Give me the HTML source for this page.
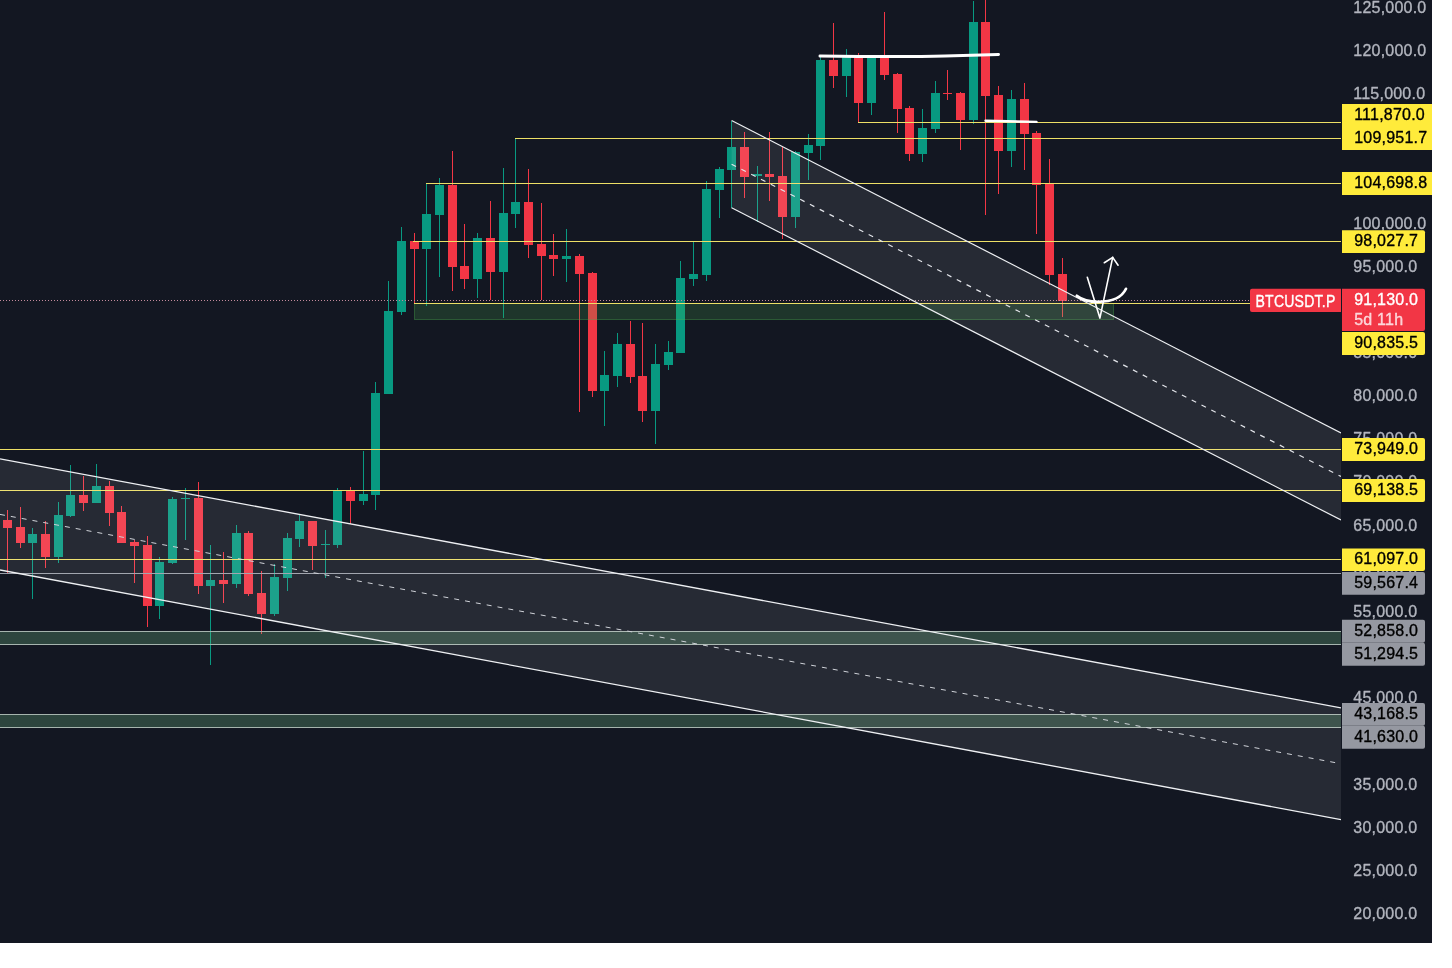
<!DOCTYPE html>
<html lang="en"><head><meta charset="utf-8"><title>BTCUSDT.P chart</title>
<style>html,body{margin:0;padding:0;background:#fff}body{width:1452px;height:968px;overflow:hidden}svg{display:block;will-change:transform}text{font-family:"Liberation Sans",Arial,sans-serif;font-size:16px;letter-spacing:0.22px;stroke-width:0.35px;stroke-linejoin:round}</style></head><body>
<svg width="1452" height="968" viewBox="0 0 1452 968">
<defs><clipPath id="cp"><rect x="0" y="0" width="1432" height="943"/></clipPath><clipPath id="ch"><rect x="0" y="0" width="1341" height="943"/></clipPath></defs>
<rect width="1452" height="968" fill="#ffffff"/>
<g clip-path="url(#cp)">
<rect x="0" y="0" width="1432" height="943" fill="#131722"/>
<g shape-rendering="crispEdges">
<rect x="7" y="510.0" width="1" height="62.8" fill="#F23645"/>
<rect x="3" y="520.0" width="9" height="8.0" fill="#F23645"/>
<rect x="20" y="507.0" width="1" height="40.6" fill="#F23645"/>
<rect x="16" y="527.0" width="9" height="16.0" fill="#F23645"/>
<rect x="32" y="528.0" width="1" height="70.7" fill="#089981"/>
<rect x="28" y="534.0" width="9" height="9.0" fill="#089981"/>
<rect x="45" y="521.0" width="1" height="46.8" fill="#F23645"/>
<rect x="41" y="534.0" width="9" height="23.0" fill="#F23645"/>
<rect x="58" y="502.0" width="1" height="60.8" fill="#089981"/>
<rect x="54" y="515.0" width="9" height="42.0" fill="#089981"/>
<rect x="70" y="465.0" width="1" height="52.0" fill="#089981"/>
<rect x="66" y="495.0" width="9" height="21.0" fill="#089981"/>
<rect x="83" y="476.0" width="1" height="35.0" fill="#F23645"/>
<rect x="79" y="495.0" width="9" height="8.0" fill="#F23645"/>
<rect x="96" y="464.0" width="1" height="39.0" fill="#089981"/>
<rect x="92" y="486.0" width="9" height="17.0" fill="#089981"/>
<rect x="109" y="481.4" width="1" height="44.6" fill="#F23645"/>
<rect x="105" y="486.0" width="9" height="27.0" fill="#F23645"/>
<rect x="121" y="506.0" width="1" height="37.0" fill="#F23645"/>
<rect x="117" y="512.0" width="9" height="31.0" fill="#F23645"/>
<rect x="134" y="540.0" width="1" height="42.6" fill="#F23645"/>
<rect x="130" y="542.0" width="9" height="4.0" fill="#F23645"/>
<rect x="147" y="536.0" width="1" height="90.7" fill="#F23645"/>
<rect x="143" y="545.0" width="9" height="60.7" fill="#F23645"/>
<rect x="159" y="557.0" width="1" height="61.7" fill="#089981"/>
<rect x="155" y="562.0" width="9" height="43.7" fill="#089981"/>
<rect x="172" y="497.0" width="1" height="67.0" fill="#089981"/>
<rect x="168" y="499.0" width="9" height="64.0" fill="#089981"/>
<rect x="185" y="488.0" width="1" height="52.0" fill="#089981"/>
<rect x="181" y="497.5" width="9" height="1.1" fill="#089981"/>
<rect x="198" y="482.0" width="1" height="112.0" fill="#F23645"/>
<rect x="194" y="498.0" width="9" height="88.0" fill="#F23645"/>
<rect x="210" y="545.0" width="1" height="120.0" fill="#089981"/>
<rect x="206" y="580.0" width="9" height="6.0" fill="#089981"/>
<rect x="223" y="552.0" width="1" height="51.0" fill="#F23645"/>
<rect x="219" y="580.0" width="9" height="4.0" fill="#F23645"/>
<rect x="236" y="525.0" width="1" height="63.0" fill="#089981"/>
<rect x="232" y="533.0" width="9" height="51.0" fill="#089981"/>
<rect x="248" y="531.0" width="1" height="65.0" fill="#F23645"/>
<rect x="244" y="533.0" width="9" height="61.0" fill="#F23645"/>
<rect x="261" y="571.0" width="1" height="63.0" fill="#F23645"/>
<rect x="257" y="593.0" width="9" height="21.0" fill="#F23645"/>
<rect x="274" y="564.0" width="1" height="52.0" fill="#089981"/>
<rect x="270" y="577.0" width="9" height="37.0" fill="#089981"/>
<rect x="287" y="533.0" width="1" height="58.0" fill="#089981"/>
<rect x="283" y="538.0" width="9" height="40.0" fill="#089981"/>
<rect x="299" y="514.0" width="1" height="33.0" fill="#089981"/>
<rect x="295" y="521.0" width="9" height="18.0" fill="#089981"/>
<rect x="312" y="521.0" width="1" height="49.0" fill="#F23645"/>
<rect x="308" y="521.0" width="9" height="25.0" fill="#F23645"/>
<rect x="325" y="530.0" width="1" height="48.0" fill="#089981"/>
<rect x="321" y="544.0" width="9" height="1.1" fill="#089981"/>
<rect x="337" y="488.0" width="1" height="60.0" fill="#089981"/>
<rect x="333" y="491.0" width="9" height="54.0" fill="#089981"/>
<rect x="350" y="487.0" width="1" height="37.0" fill="#F23645"/>
<rect x="346" y="491.0" width="9" height="10.0" fill="#F23645"/>
<rect x="363" y="451.0" width="1" height="53.5" fill="#089981"/>
<rect x="359" y="494.0" width="9" height="7.0" fill="#089981"/>
<rect x="375" y="382.0" width="1" height="128.0" fill="#089981"/>
<rect x="371" y="393.0" width="9" height="102.0" fill="#089981"/>
<rect x="388" y="281.0" width="1" height="112.5" fill="#089981"/>
<rect x="384" y="311.0" width="9" height="82.5" fill="#089981"/>
<rect x="401" y="227.0" width="1" height="88.0" fill="#089981"/>
<rect x="397" y="241.0" width="9" height="71.0" fill="#089981"/>
<rect x="414" y="232.5" width="1" height="70.0" fill="#F23645"/>
<rect x="410" y="241.0" width="9" height="8.0" fill="#F23645"/>
<rect x="426" y="183.0" width="1" height="123.0" fill="#089981"/>
<rect x="422" y="214.0" width="9" height="35.0" fill="#089981"/>
<rect x="439" y="178.0" width="1" height="99.0" fill="#089981"/>
<rect x="435" y="185.0" width="9" height="30.0" fill="#089981"/>
<rect x="452" y="151.0" width="1" height="140.0" fill="#F23645"/>
<rect x="448" y="185.0" width="9" height="82.0" fill="#F23645"/>
<rect x="464" y="224.0" width="1" height="65.0" fill="#F23645"/>
<rect x="460" y="266.0" width="9" height="13.0" fill="#F23645"/>
<rect x="477" y="233.0" width="1" height="65.0" fill="#089981"/>
<rect x="473" y="238.0" width="9" height="41.0" fill="#089981"/>
<rect x="490" y="201.0" width="1" height="99.0" fill="#F23645"/>
<rect x="486" y="238.0" width="9" height="34.0" fill="#F23645"/>
<rect x="503" y="168.0" width="1" height="150.0" fill="#089981"/>
<rect x="499" y="213.0" width="9" height="59.0" fill="#089981"/>
<rect x="515" y="138.5" width="1" height="89.5" fill="#089981"/>
<rect x="511" y="202.0" width="9" height="12.0" fill="#089981"/>
<rect x="528" y="169.0" width="1" height="89.0" fill="#F23645"/>
<rect x="524" y="202.0" width="9" height="43.0" fill="#F23645"/>
<rect x="541" y="202.5" width="1" height="97.5" fill="#F23645"/>
<rect x="537" y="244.0" width="9" height="12.0" fill="#F23645"/>
<rect x="553" y="234.0" width="1" height="42.0" fill="#F23645"/>
<rect x="549" y="255.0" width="9" height="4.0" fill="#F23645"/>
<rect x="566" y="229.0" width="1" height="53.0" fill="#089981"/>
<rect x="562" y="256.0" width="9" height="3.0" fill="#089981"/>
<rect x="579" y="254.0" width="1" height="158.0" fill="#F23645"/>
<rect x="575" y="256.0" width="9" height="18.0" fill="#F23645"/>
<rect x="592" y="272.0" width="1" height="125.0" fill="#F23645"/>
<rect x="588" y="273.0" width="9" height="118.0" fill="#F23645"/>
<rect x="604" y="351.0" width="1" height="75.0" fill="#089981"/>
<rect x="600" y="375.0" width="9" height="16.0" fill="#089981"/>
<rect x="617" y="333.0" width="1" height="54.0" fill="#089981"/>
<rect x="613" y="344.0" width="9" height="32.0" fill="#089981"/>
<rect x="630" y="321.0" width="1" height="62.0" fill="#F23645"/>
<rect x="626" y="344.0" width="9" height="33.0" fill="#F23645"/>
<rect x="642" y="323.0" width="1" height="99.0" fill="#F23645"/>
<rect x="638" y="376.0" width="9" height="35.0" fill="#F23645"/>
<rect x="655" y="344.0" width="1" height="100.0" fill="#089981"/>
<rect x="651" y="364.0" width="9" height="47.0" fill="#089981"/>
<rect x="668" y="341.0" width="1" height="29.0" fill="#089981"/>
<rect x="664" y="352.0" width="9" height="12.5" fill="#089981"/>
<rect x="680" y="261.0" width="1" height="92.0" fill="#089981"/>
<rect x="676" y="278.0" width="9" height="75.0" fill="#089981"/>
<rect x="693" y="242.0" width="1" height="44.0" fill="#089981"/>
<rect x="689" y="274.0" width="9" height="5.0" fill="#089981"/>
<rect x="706" y="181.0" width="1" height="100.0" fill="#089981"/>
<rect x="702" y="189.0" width="9" height="86.0" fill="#089981"/>
<rect x="719" y="167.0" width="1" height="51.0" fill="#089981"/>
<rect x="715" y="169.0" width="9" height="21.0" fill="#089981"/>
<rect x="731" y="120.5" width="1" height="87.3" fill="#089981"/>
<rect x="727" y="147.0" width="9" height="23.0" fill="#089981"/>
<rect x="744" y="132.0" width="1" height="66.0" fill="#F23645"/>
<rect x="740" y="147.0" width="9" height="30.0" fill="#F23645"/>
<rect x="757" y="166.0" width="1" height="56.0" fill="#089981"/>
<rect x="753" y="174.4" width="9" height="1.5" fill="#089981"/>
<rect x="769" y="132.0" width="1" height="68.7" fill="#F23645"/>
<rect x="765" y="174.4" width="9" height="2.7" fill="#F23645"/>
<rect x="782" y="147.0" width="1" height="92.0" fill="#F23645"/>
<rect x="778" y="176.0" width="9" height="40.5" fill="#F23645"/>
<rect x="795" y="150.8" width="1" height="76.7" fill="#089981"/>
<rect x="791" y="152.0" width="9" height="64.5" fill="#089981"/>
<rect x="808" y="133.7" width="1" height="46.3" fill="#089981"/>
<rect x="804" y="145.0" width="9" height="7.8" fill="#089981"/>
<rect x="820" y="57.0" width="1" height="103.0" fill="#089981"/>
<rect x="816" y="59.8" width="9" height="86.2" fill="#089981"/>
<rect x="833" y="23.0" width="1" height="65.0" fill="#F23645"/>
<rect x="829" y="59.8" width="9" height="16.2" fill="#F23645"/>
<rect x="846" y="49.0" width="1" height="48.0" fill="#089981"/>
<rect x="842" y="57.3" width="9" height="18.7" fill="#089981"/>
<rect x="858" y="53.0" width="1" height="69.2" fill="#F23645"/>
<rect x="854" y="57.3" width="9" height="45.5" fill="#F23645"/>
<rect x="871" y="57.0" width="1" height="58.0" fill="#089981"/>
<rect x="867" y="57.3" width="9" height="45.5" fill="#089981"/>
<rect x="884" y="12.0" width="1" height="68.0" fill="#F23645"/>
<rect x="880" y="57.3" width="9" height="17.5" fill="#F23645"/>
<rect x="897" y="72.6" width="1" height="60.6" fill="#F23645"/>
<rect x="893" y="74.0" width="9" height="35.0" fill="#F23645"/>
<rect x="909" y="106.0" width="1" height="54.8" fill="#F23645"/>
<rect x="905" y="108.0" width="9" height="46.0" fill="#F23645"/>
<rect x="922" y="109.2" width="1" height="52.8" fill="#089981"/>
<rect x="918" y="128.0" width="9" height="26.0" fill="#089981"/>
<rect x="935" y="81.0" width="1" height="52.0" fill="#089981"/>
<rect x="931" y="93.0" width="9" height="36.0" fill="#089981"/>
<rect x="947" y="70.0" width="1" height="30.0" fill="#F23645"/>
<rect x="943" y="92.8" width="9" height="1.5" fill="#F23645"/>
<rect x="960" y="92.0" width="1" height="58.0" fill="#F23645"/>
<rect x="956" y="93.0" width="9" height="27.1" fill="#F23645"/>
<rect x="973" y="1.0" width="1" height="123.3" fill="#089981"/>
<rect x="969" y="22.0" width="9" height="98.1" fill="#089981"/>
<rect x="985" y="0.0" width="1" height="215.0" fill="#F23645"/>
<rect x="981" y="22.0" width="9" height="74.0" fill="#F23645"/>
<rect x="998" y="86.2" width="1" height="107.8" fill="#F23645"/>
<rect x="994" y="95.3" width="9" height="55.7" fill="#F23645"/>
<rect x="1011" y="90.3" width="1" height="76.7" fill="#089981"/>
<rect x="1007" y="99.1" width="9" height="51.9" fill="#089981"/>
<rect x="1024" y="83.0" width="1" height="87.0" fill="#F23645"/>
<rect x="1020" y="99.1" width="9" height="34.9" fill="#F23645"/>
<rect x="1036" y="131.0" width="1" height="103.0" fill="#F23645"/>
<rect x="1032" y="133.0" width="9" height="52.0" fill="#F23645"/>
<rect x="1049" y="159.0" width="1" height="125.5" fill="#F23645"/>
<rect x="1045" y="184.0" width="9" height="91.0" fill="#F23645"/>
<rect x="1062" y="258.2" width="1" height="58.8" fill="#F23645"/>
<rect x="1058" y="274.0" width="9" height="26.8" fill="#F23645"/>
</g>
<line x1="0" y1="300.5" x2="1250" y2="300.5" stroke="#C48A9B" stroke-width="1" stroke-dasharray="1 2" shape-rendering="crispEdges"/>
<g clip-path="url(#ch)">
<rect x="-2" y="631.5" width="1346" height="13" fill="rgb(134,223,154)" fill-opacity="0.23" stroke="#a6b4ae" stroke-width="1"/>
<rect x="-2" y="714.5" width="1346" height="13" fill="rgb(134,223,154)" fill-opacity="0.23" stroke="#a6b4ae" stroke-width="1"/>
<rect x="414.5" y="303.5" width="699" height="16" fill="rgb(76,175,80)" fill-opacity="0.2" stroke="rgb(76,175,80)" stroke-opacity="0.38" stroke-width="1"/>
</g>
<rect x="857.5" y="122" width="484.5" height="1" fill="#EDDF66" shape-rendering="crispEdges"/>
<rect x="515.0" y="138" width="827.0" height="1" fill="#EDDF66" shape-rendering="crispEdges"/>
<rect x="425.5" y="183" width="916.5" height="1" fill="#EDDF66" shape-rendering="crispEdges"/>
<rect x="413.0" y="241" width="929.0" height="1" fill="#EDDF66" shape-rendering="crispEdges"/>
<rect x="413.5" y="303" width="928.5" height="1" fill="#EDDF66" shape-rendering="crispEdges"/>
<rect x="0.0" y="449" width="1342.0" height="1" fill="#EDDF66" shape-rendering="crispEdges"/>
<rect x="0.0" y="490" width="1342.0" height="1" fill="#EDDF66" shape-rendering="crispEdges"/>
<rect x="0.0" y="559" width="1342.0" height="1" fill="#EDDF66" shape-rendering="crispEdges"/>
<rect x="0.0" y="573" width="1342.0" height="1" fill="#9a9ea8" shape-rendering="crispEdges"/>
<g clip-path="url(#ch)">
<polygon points="0,458.8 1341,707.9 1341,819.6 0,570" fill="#ffffff" fill-opacity="0.082"/>
<line x1="0" y1="458.8" x2="1341" y2="707.9" stroke="#eef0f3" stroke-width="1.3"/>
<line x1="0" y1="570" x2="1341" y2="819.6" stroke="#eef0f3" stroke-width="1.3"/>
<line x1="0" y1="514.4" x2="1341" y2="763.7" stroke="#d0d3d9" stroke-width="1" stroke-dasharray="5 6"/>
<polygon points="731.6,120.5 1341,433 1341,520 731.6,207.8" fill="#ffffff" fill-opacity="0.082"/>
<line x1="731.6" y1="120.5" x2="1341" y2="433" stroke="#eef0f3" stroke-width="1.2"/>
<line x1="731.6" y1="207.8" x2="1341" y2="520" stroke="#eef0f3" stroke-width="1.2"/>
<line x1="731.6" y1="164.2" x2="1341" y2="476.5" stroke="#e3e5ea" stroke-width="1.2" stroke-dasharray="5 6"/>
</g>
<path d="M820 56 C860 56.5 920 56.6 945 56 S985 54.8 998.5 54.4" fill="none" stroke="#ffffff" stroke-width="3" stroke-linecap="round"/>
<line x1="985.5" y1="120.8" x2="1036.5" y2="121.9" stroke="#ffffff" stroke-width="2.4" stroke-linecap="round"/>
<path d="M1076.8 295.8 C1083 300.5 1090 301.8 1098 301.8 C1108 301.8 1121 299.5 1126 288.8" fill="none" stroke="#ffffff" stroke-width="2.7" stroke-linecap="round"/>
<path d="M1087.3 277.2 L1099.9 318.1 L1112.7 257.4" fill="none" stroke="#ffffff" stroke-width="1.6" stroke-linecap="round" stroke-linejoin="round"/>
<path d="M1104.3 262.7 L1112.7 257.4 L1118.1 265.2" fill="none" stroke="#ffffff" stroke-width="1.6" stroke-linecap="round" stroke-linejoin="round"/>
<rect x="1341" y="0" width="91" height="943" fill="#131722"/>
<text x="1353.3" y="918.9" fill="#B2B5BE" stroke="#B2B5BE">20,000.0</text>
<text x="1353.3" y="875.8" fill="#B2B5BE" stroke="#B2B5BE">25,000.0</text>
<text x="1353.3" y="832.6" fill="#B2B5BE" stroke="#B2B5BE">30,000.0</text>
<text x="1353.3" y="789.5" fill="#B2B5BE" stroke="#B2B5BE">35,000.0</text>
<text x="1353.3" y="746.3" fill="#B2B5BE" stroke="#B2B5BE">40,000.0</text>
<text x="1353.3" y="703.1" fill="#B2B5BE" stroke="#B2B5BE">45,000.0</text>
<text x="1353.3" y="660.0" fill="#B2B5BE" stroke="#B2B5BE">50,000.0</text>
<text x="1353.3" y="616.9" fill="#B2B5BE" stroke="#B2B5BE">55,000.0</text>
<text x="1353.3" y="573.7" fill="#B2B5BE" stroke="#B2B5BE">60,000.0</text>
<text x="1353.3" y="530.6" fill="#B2B5BE" stroke="#B2B5BE">65,000.0</text>
<text x="1353.3" y="487.4" fill="#B2B5BE" stroke="#B2B5BE">70,000.0</text>
<text x="1353.3" y="444.2" fill="#B2B5BE" stroke="#B2B5BE">75,000.0</text>
<text x="1353.3" y="401.1" fill="#B2B5BE" stroke="#B2B5BE">80,000.0</text>
<text x="1353.3" y="357.9" fill="#B2B5BE" stroke="#B2B5BE">85,000.0</text>
<text x="1353.3" y="314.8" fill="#B2B5BE" stroke="#B2B5BE">90,000.0</text>
<text x="1353.3" y="271.6" fill="#B2B5BE" stroke="#B2B5BE">95,000.0</text>
<text x="1353.3" y="228.5" fill="#B2B5BE" stroke="#B2B5BE">100,000.0</text>
<text x="1353.3" y="185.4" fill="#B2B5BE" stroke="#B2B5BE">105,000.0</text>
<text x="1353.3" y="142.2" fill="#B2B5BE" stroke="#B2B5BE">110,000.0</text>
<text x="1353.3" y="99.1" fill="#B2B5BE" stroke="#B2B5BE">115,000.0</text>
<text x="1353.3" y="55.9" fill="#B2B5BE" stroke="#B2B5BE">120,000.0</text>
<text x="1353.3" y="12.7" fill="#B2B5BE" stroke="#B2B5BE">125,000.0</text>
<path d="M1342 104.0 H1432.0 Q1434.0 104.0 1434.0 106.0 V125.0 Q1434.0 127.0 1432.0 127.0 H1342 Z" fill="#FFEB3B"/>
<text x="1354.2" y="120.0" fill="#000000" stroke="#000000">111,870.0</text>
<path d="M1342 127.0 H1432.0 Q1434.0 127.0 1434.0 129.0 V148.0 Q1434.0 150.0 1432.0 150.0 H1342 Z" fill="#FFEB3B"/>
<text x="1354.2" y="143.0" fill="#000000" stroke="#000000">109,951.7</text>
<path d="M1342 172.0 H1432.0 Q1434.0 172.0 1434.0 174.0 V193.0 Q1434.0 195.0 1432.0 195.0 H1342 Z" fill="#FFEB3B"/>
<text x="1354.2" y="188.0" fill="#000000" stroke="#000000">104,698.8</text>
<path d="M1342 230.2 H1423.0 Q1425.0 230.2 1425.0 232.2 V251.1 Q1425.0 253.1 1423.0 253.1 H1342 Z" fill="#FFEB3B"/>
<text x="1354.2" y="246.1" fill="#000000" stroke="#000000">98,027.7</text>
<path d="M1342 332.0 H1423.0 Q1425.0 332.0 1425.0 334.0 V352.9 Q1425.0 354.9 1423.0 354.9 H1342 Z" fill="#FFEB3B"/>
<text x="1354.2" y="347.9" fill="#000000" stroke="#000000">90,835.5</text>
<path d="M1342 438.0 H1423.0 Q1425.0 438.0 1425.0 440.0 V458.9 Q1425.0 460.9 1423.0 460.9 H1342 Z" fill="#FFEB3B"/>
<text x="1354.2" y="453.9" fill="#000000" stroke="#000000">73,949.0</text>
<path d="M1342 479.1 H1423.0 Q1425.0 479.1 1425.0 481.1 V500.0 Q1425.0 502.0 1423.0 502.0 H1342 Z" fill="#FFEB3B"/>
<text x="1354.2" y="495.1" fill="#000000" stroke="#000000">69,138.5</text>
<path d="M1342 548.4 H1423.0 Q1425.0 548.4 1425.0 550.4 V569.0 Q1425.0 571.0 1423.0 571.0 H1342 Z" fill="#FFEB3B"/>
<text x="1354.2" y="564.2" fill="#000000" stroke="#000000">61,097.0</text>
<path d="M1342 572.1 H1423.0 Q1425.0 572.1 1425.0 574.1 V592.7 Q1425.0 594.7 1423.0 594.7 H1342 Z" fill="#9598A1"/>
<text x="1354.2" y="587.9" fill="#000000" stroke="#000000">59,567.4</text>
<path d="M1342 619.8 H1423.0 Q1425.0 619.8 1425.0 621.8 V640.7 Q1425.0 642.7 1423.0 642.7 H1342 Z" fill="#9598A1"/>
<text x="1354.2" y="635.8" fill="#000000" stroke="#000000">52,858.0</text>
<path d="M1342 642.7 H1423.0 Q1425.0 642.7 1425.0 644.7 V663.7 Q1425.0 665.7 1423.0 665.7 H1342 Z" fill="#9598A1"/>
<text x="1354.2" y="658.7" fill="#000000" stroke="#000000">51,294.5</text>
<path d="M1342 702.9 H1423.0 Q1425.0 702.9 1425.0 704.9 V723.8 Q1425.0 725.8 1423.0 725.8 H1342 Z" fill="#9598A1"/>
<text x="1354.2" y="718.8" fill="#000000" stroke="#000000">43,168.5</text>
<path d="M1342 725.8 H1423.0 Q1425.0 725.8 1425.0 727.8 V746.7 Q1425.0 748.7 1423.0 748.7 H1342 Z" fill="#9598A1"/>
<text x="1354.2" y="741.8" fill="#000000" stroke="#000000">41,630.0</text>
<path d="M1342 288.7 H1423 Q1425 288.7 1425 290.7 V328.9 Q1425 330.9 1423 330.9 H1342 Z" fill="#F23645"/>
<text x="1354.2" y="304.6" fill="#ffffff" stroke="#ffffff">91,130.0</text>
<text x="1354.2" y="324.6" fill="#ffffff" fill-opacity="0.75" stroke="#ffffff" stroke-opacity="0.75">5d 11h</text>
<path d="M1252 288.7 H1341 V312 H1252 Q1250 312 1250 310 V290.7 Q1250 288.7 1252 288.7 Z" fill="#F23645"/>
<text x="1255.5" y="306.9" fill="#ffffff" stroke="#ffffff" textLength="80" lengthAdjust="spacingAndGlyphs">BTCUSDT.P</text>
</g>
</svg></body></html>
